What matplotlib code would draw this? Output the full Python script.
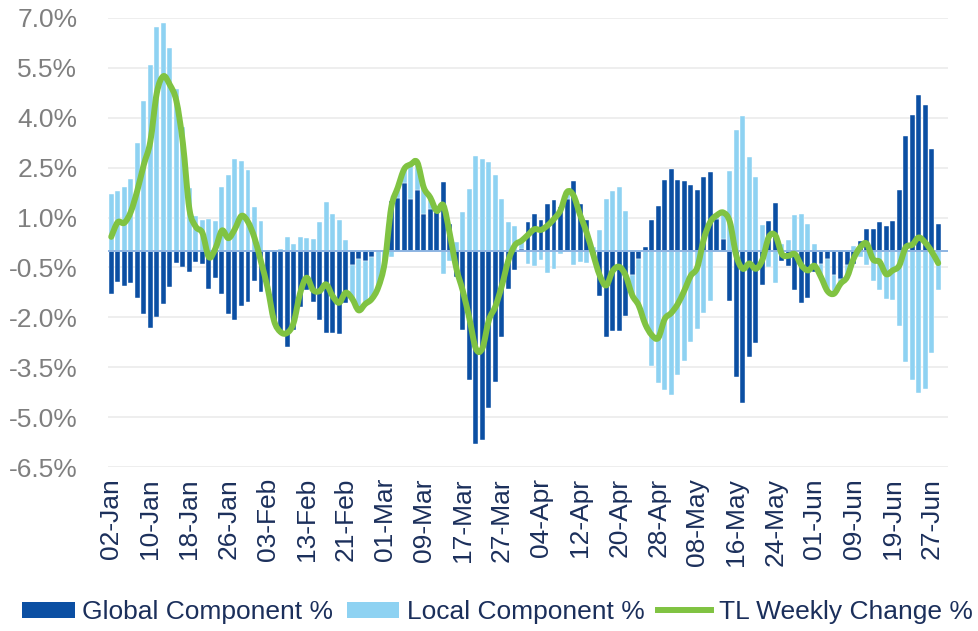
import numpy as np
import matplotlib
matplotlib.use("Agg")
import matplotlib.pyplot as plt
from matplotlib.path import Path
from matplotlib.patches import PathPatch, Patch
from matplotlib.lines import Line2D

plt.rcParams['font.family'] = ['Liberation Sans', 'DejaVu Sans']

# daily values, %
global_comp = [
    -1.29, -0.93, -1.07, -0.98, -1.42, -1.90, -2.31, -1.99, -1.61, -1.10,
    -0.36, -0.48, -0.63, -0.33, -0.39, -1.14, -0.82, -1.30, -1.91, -2.09,
    -1.66, -1.55, -0.92, -1.23, -1.10, -2.10, -2.50, -2.90, -2.37, -1.69,
    -1.19, -1.54, -2.09, -2.47, -2.47, -2.49, -1.57, -0.44, -0.24, -0.30,
    -0.19, 0.00, 0.00, 1.50, 1.60, 2.03, 1.55, 1.84, 1.10, 1.26,
    1.16, 2.06, 0.80, -0.80, -2.37, -3.89, -5.80, -5.69, -4.74, -3.94,
    -2.60, -1.14, -0.59, 0.05, 0.87, 1.12, 0.92, 1.42, 1.52, 1.32,
    1.57, 2.10, 1.42, 0.92, -0.20, -1.37, -2.60, -2.41, -2.41, -1.95,
    -0.73, -0.24, 0.10, 0.94, 1.34, 2.14, 2.47, 2.14, 2.11, 1.99,
    1.84, 2.22, 2.37, 0.97, 0.35, -1.52, -3.79, -4.59, -3.20, -2.76,
    -1.04, 0.90, 1.44, -0.30, -0.47, -1.19, -1.56, -1.41, -0.64, -0.39,
    -0.26, -0.74, -0.84, -0.44, -0.39, 0.30, 0.66, 0.66, 0.86, 0.76,
    0.90, 1.82, 3.44, 4.07, 4.67, 4.39, 3.05, 0.82,
]
local_comp = [
    1.71, 1.79, 1.91, 2.15, 3.23, 4.49, 5.59, 6.74, 6.86, 6.09,
    4.87, 3.72, 1.89, 1.05, 0.93, 0.95, 0.89, 1.91, 2.29, 2.75,
    2.71, 2.42, 1.31, 0.90, 0.00, 0.00, 0.06, 0.43, 0.20, 0.41,
    0.38, 0.36, 0.88, 1.46, 1.11, 0.93, 0.31, -1.00, -1.55, -1.30,
    -1.26, -1.10, -0.35, -0.20, 0.30, 0.43, 1.05, 0.82, 0.80, 0.34,
    0.04, -0.69, -0.30, 0.27, 1.16, 1.86, 2.86, 2.76, 2.66, 2.27,
    1.56, 0.86, 0.76, 0.25, -0.39, -0.47, -0.29, -0.66, -0.56, -0.10,
    0.20, -0.44, -0.34, -0.36, 0.10, 0.64, 1.56, 1.80, 1.93, 1.21,
    -0.60, -1.40, -2.30, -3.47, -3.96, -4.19, -4.34, -3.74, -3.31, -2.74,
    -2.34, -1.87, -1.50, 0.10, 0.80, 2.39, 3.64, 4.05, 2.82, 2.22,
    0.77, -0.48, -0.98, 0.20, 0.32, 1.09, 1.12, 0.82, 0.19, -0.40,
    -0.95, -0.55, -0.15, -0.35, 0.15, -0.20, -0.44, -0.92, -1.19, -1.46,
    -1.49, -2.27, -3.34, -3.89, -4.27, -4.14, -3.07, -1.19,
]
tl_weekly = [
    0.42, 0.86, 0.84, 1.17, 1.81, 2.59, 3.28, 4.75, 5.25, 4.99,
    4.51, 3.24, 1.26, 0.72, 0.54, -0.19, 0.07, 0.61, 0.38, 0.66,
    1.05, 0.87, 0.39, -0.33, -1.10, -2.10, -2.44, -2.47, -2.17, -1.28,
    -0.81, -1.18, -1.21, -1.01, -1.36, -1.56, -1.26, -1.44, -1.79, -1.60,
    -1.45, -1.10, -0.35, 1.30, 1.90, 2.46, 2.60, 2.66, 1.90, 1.60,
    1.20, 1.37, 0.50, -0.53, -1.21, -2.03, -2.94, -2.93, -2.08, -1.67,
    -1.04, -0.28, 0.17, 0.30, 0.48, 0.65, 0.63, 0.76, 0.96, 1.22,
    1.77, 1.66, 1.08, 0.56, -0.10, -0.73, -1.04, -0.61, -0.48, -0.74,
    -1.33, -1.64, -2.20, -2.53, -2.62, -2.05, -1.87, -1.60, -1.20, -0.75,
    -0.50, 0.35, 0.87, 1.07, 1.15, 0.87, -0.15, -0.54, -0.38, -0.54,
    -0.27, 0.42, 0.46, -0.10, -0.15, -0.10, -0.44, -0.59, -0.45, -0.79,
    -1.21, -1.29, -0.99, -0.79, -0.24, 0.10, 0.22, -0.26, -0.33, -0.70,
    -0.59, -0.45, 0.10, 0.18, 0.40, 0.25, -0.02, -0.37,
]
tick_labels = ["02-Jan", "10-Jan", "18-Jan", "26-Jan", "03-Feb", "13-Feb",
               "21-Feb", "01-Mar", "09-Mar", "17-Mar", "27-Mar", "04-Apr",
               "12-Apr", "20-Apr", "28-Apr", "08-May", "16-May", "24-May",
               "01-Jun", "09-Jun", "19-Jun", "27-Jun"]
y_ticks = [7.0, 5.5, 4.0, 2.5, 1.0, -0.5, -2.0, -3.5, -5.0, -6.5]

DARK = '#0B4FA3'
LIGHT = '#8ED2F2'
GREEN = '#80C342'
NAVY = '#1B2F5B'

g = np.array(global_comp)
l = np.array(local_comp)
x = np.arange(len(g))

# excel style stacking: positives on positives, negatives on negatives
l_bottom = np.where(l >= 0, np.maximum(g, 0), np.minimum(g, 0))

fig = plt.figure(figsize=(9.79, 6.31), dpi=100)
ax = fig.add_axes([0.1103, 0.2599, 0.8580, 0.7116])

ax.bar(x, g, width=0.76, color=DARK, edgecolor='white', linewidth=0.3, zorder=2)
ax.bar(x, l, bottom=l_bottom, width=0.76, color=LIGHT, edgecolor='white',
       linewidth=0.3, zorder=2)
ax.axhline(0, color='#8DB4E2', lw=1.4, zorder=3)

# smoothed line (bezier through the points, like excel's smoothed line)
pts = np.column_stack([x, tl_weekly]).astype(float)
verts = [pts[0]]
codes = [Path.MOVETO]
n = len(pts)
for i in range(n - 1):
    p0 = pts[max(i - 1, 0)]
    p1 = pts[i]
    p2 = pts[i + 1]
    p3 = pts[min(i + 2, n - 1)]
    c1 = p1 + (p2 - p0) / 6.0
    c2 = p2 - (p3 - p1) / 6.0
    verts += [c1, c2, p2]
    codes += [Path.CURVE4] * 3
ax.add_patch(PathPatch(Path(verts, codes), facecolor='none', edgecolor=GREEN,
                       lw=4.3, capstyle='round', joinstyle='round', zorder=4))

ax.set_xlim(-0.5, len(g) + 0.5)
ax.set_ylim(-6.5, 7.0)
ax.set_yticks(y_ticks)
ax.set_yticklabels(["%.1f%%" % v for v in y_ticks], fontsize=19, color='#7F7F7F')
ax.set_xticks(np.arange(0, len(g), 6))
ax.set_xticklabels(tick_labels, rotation=90, fontsize=19, color=NAVY)
ax.tick_params(axis='both', length=0)
ax.tick_params(axis='x', pad=8)
ax.tick_params(axis='y', pad=22)
ax.grid(axis='y', color='#EBEBEB', lw=1.2, zorder=0)
ax.set_axisbelow(True)
for s in ax.spines.values():
    s.set_visible(False)

handles = [Patch(facecolor=DARK, edgecolor='none'),
           Patch(facecolor=LIGHT, edgecolor='none'),
           Line2D([0], [0], color=GREEN, lw=4.3)]
fig.legend(handles, ["Global Component %", "Local Component %", "TL Weekly Change %"],
           loc='center', bbox_to_anchor=(0.508, 0.03), ncol=3, frameon=False,
           fontsize=19, labelcolor=NAVY, handlelength=2.0, handleheight=0.55,
           handletextpad=0.3, columnspacing=0.5, borderaxespad=0)

fig.savefig("out.png", dpi=100)
